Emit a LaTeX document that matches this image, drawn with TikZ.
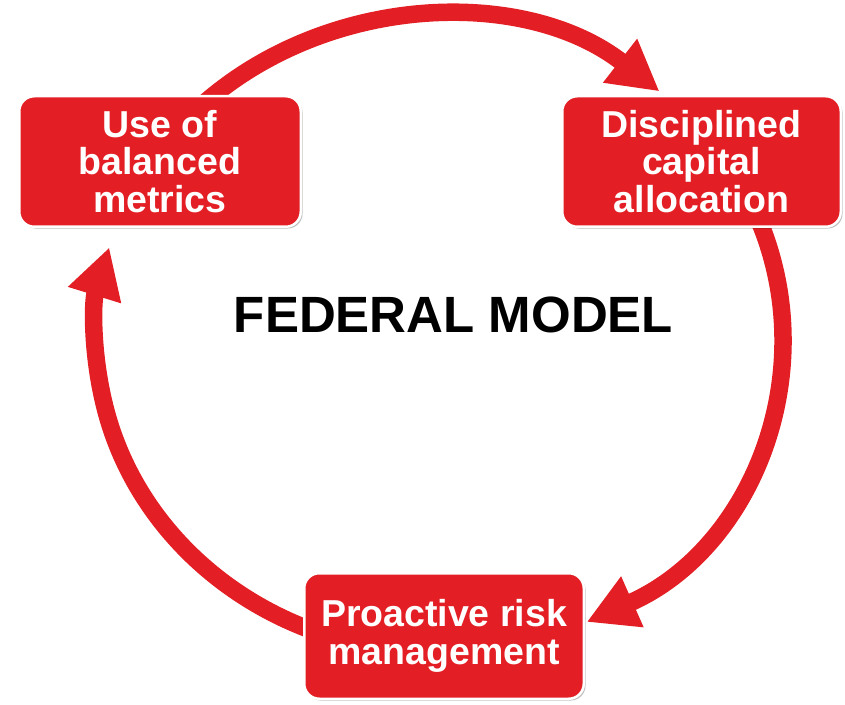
\documentclass[tikz,border=0pt]{standalone}
\usepackage{fontspec}
\setmainfont{Liberation Sans}
\usetikzlibrary{arrows.meta,shadows}
\definecolor{cyclered}{RGB}{227,30,36}
\begin{document}
\begin{tikzpicture}[x=1pt,y=1pt,
  flow/.style={draw=cyclered, line width=17.5pt, -{Triangle[length=50pt,width=52pt]}},
  stage/.style={rectangle, rounded corners=15pt, fill=cyclered, draw=white,
    line width=2.5pt, text=white, align=center, inner sep=0pt,
    font=\bfseries\fontsize{37.5}{37.5}\selectfont,
    drop shadow={shadow xshift=1.8pt, shadow yshift=-1.8pt, fill=black, opacity=0.25}},
  title/.style={font=\bfseries\fontsize{51}{51}\selectfont, text=black}]
\useasboundingbox (0,0) rectangle (845,704);

% centre of the elliptical cycle
\coordinate (ring) at (439,369);

% the three arcs of the cycle, drawn beneath the stage boxes
\draw[flow] (ring) ++(135:343pt and 318pt)
  arc[start angle=135, end angle=50, x radius=343pt, y radius=318pt];
\draw[flow] (ring) ++(25:343pt and 318pt)
  arc[start angle=25, end angle=-64.5, x radius=343pt, y radius=318pt];
\draw[flow] (ring) ++(255:343pt and 318pt)
  arc[start angle=255, end angle=164, x radius=343pt, y radius=318pt];

% stage boxes
\node[stage, minimum width=281.5pt, minimum height=130.5pt] (metrics) at (160,542.5)
  {Use of\\balanced\\metrics};
\node[stage, minimum width=278.5pt, minimum height=130.5pt] (capital) at (701.5,542.5)
  {Disciplined\\capital\\allocation};
\node[stage, minimum width=279.5pt, minimum height=125.5pt] (risk) at (444,68)
  {Proactive risk\\management};

% centre title
\node[title, anchor=base] (model) at (453.5,371) {FEDERAL MODEL};
\end{tikzpicture}
\end{document}
